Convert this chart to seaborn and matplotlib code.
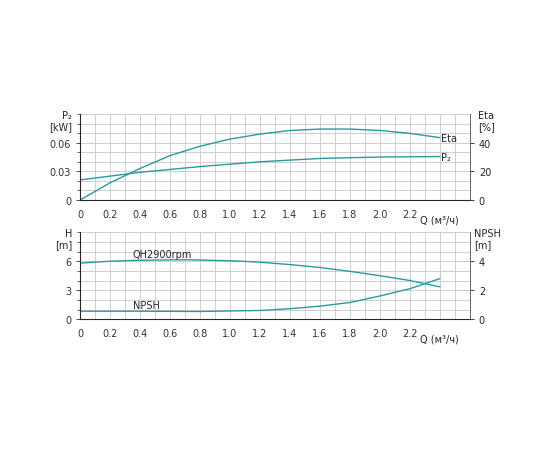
import numpy as np
import matplotlib
matplotlib.use("Agg")
import matplotlib.pyplot as plt
import seaborn as sns

sns.set_style("white")
plt.rcParams['font.family'] = ['DejaVu Sans']

# data
q_eta = [0, 0.2, 0.4, 0.6, 0.8, 1.0, 1.2, 1.4, 1.6, 1.8, 2.0, 2.2, 2.4]
eta = [0, 12, 22, 31, 37.5, 42.5, 46, 48.5, 49.5, 49.5, 48.5, 46.5, 43.5]
q_p2 = [0, 0.4, 0.8, 1.2, 1.6, 2.0, 2.4]
p2 = [0.021, 0.029, 0.035, 0.040, 0.0435, 0.045, 0.0455]
q_h = [0, 0.2, 0.4, 0.7, 1.0, 1.2, 1.4, 1.6, 1.8, 2.0, 2.2, 2.4]
head = [5.8, 6.0, 6.1, 6.15, 6.05, 5.9, 5.65, 5.35, 4.95, 4.5, 4.0, 3.35]
q_n = [0, 0.4, 0.8, 1.2, 1.4, 1.6, 1.8, 2.0, 2.2, 2.4]
npsh = [0.55, 0.55, 0.53, 0.6, 0.72, 0.9, 1.15, 1.6, 2.1, 2.8]
xticks = [0, 0.2, 0.4, 0.6, 0.8, 1.0, 1.2, 1.4, 1.6, 1.8, 2.0, 2.2]

col = "#2a9a9f"
fig = plt.figure(figsize=(5.6, 4.6), dpi=100)
ax1 = fig.add_axes([0.143, 0.563, 0.696, 0.187])
ax2 = fig.add_axes([0.143, 0.304, 0.696, 0.189])

def setup(ax, ymax, yt, ymin_step, rmax, rt):
    ax.set_xlim(0, 2.6)
    ax.set_ylim(0, ymax)
    ax.set_xticks(xticks)
    ax.set_xticklabels(["0" if v == 0 else f"{v:.1f}" for v in xticks], fontsize=7)
    ax.set_xticks(np.arange(0, 2.65, 0.1), minor=True)
    ax.set_yticks(yt)
    ax.set_yticks(np.arange(0, ymax + 1e-9, ymin_step), minor=True)
    ax.tick_params(labelsize=7, length=3, width=0.6, colors="#333333")
    ax.tick_params(which="minor", length=2, width=0.5)
    ax.grid(True, which="both", color="#c8c8c8", lw=0.6)
    for s in ["top"]:
        ax.spines[s].set_visible(False)
    for s in ["left", "bottom", "right"]:
        ax.spines[s].set_color("#666666")
        ax.spines[s].set_linewidth(0.6)
    ax.text(2.4, -0.17, "Q (м³/ч)", transform=ax.get_xaxis_transform(),
            fontsize=7, va="top", ha="center")
    r = ax.twinx()
    r.set_ylim(0, rmax)
    r.set_yticks(rt)
    r.tick_params(labelsize=7, length=3, width=0.6)
    r.spines["top"].set_visible(False)
    r.spines["right"].set_color("#666666")
    r.spines["right"].set_linewidth(0.6)
    return r

r1 = setup(ax1, 0.09, [0, 0.03, 0.06], 0.01, 60, [0, 20, 40])
ax1.set_yticklabels(["0", "0.03", "0.06"])
sns.lineplot(x=q_p2, y=p2, ax=ax1, color=col, lw=1)
sns.lineplot(x=q_eta, y=eta, ax=r1, color=col, lw=1)
ax1.text(-0.02, 1.05, "P₂\n[kW]", transform=ax1.transAxes, fontsize=7, ha="right", va="top")
r1.text(1.02, 1.05, "Eta\n[%]", transform=ax1.transAxes, fontsize=7, ha="left", va="top")
r1.text(2.41, 43.5, "Eta", fontsize=7, va="center")
ax1.text(2.41, 0.0455, "P₂", fontsize=7, va="center")

r2 = setup(ax2, 9, [0, 3, 6], 1, 6, [0, 2, 4])
sns.lineplot(x=q_h, y=head, ax=ax2, color=col, lw=1)
sns.lineplot(x=q_n, y=npsh, ax=r2, color=col, lw=1)
ax2.text(-0.02, 1.05, "H\n[m]", transform=ax2.transAxes, fontsize=7, ha="right", va="top")
ax2.text(1.01, 1.05, "NPSH\n[m]", transform=ax2.transAxes, fontsize=7, ha="left", va="top")
ax2.text(0.35, 6.4, "QH2900rpm", fontsize=7)
ax2.text(0.35, 1.2, "NPSH", fontsize=7)

fig.savefig("out.png", dpi=100)
